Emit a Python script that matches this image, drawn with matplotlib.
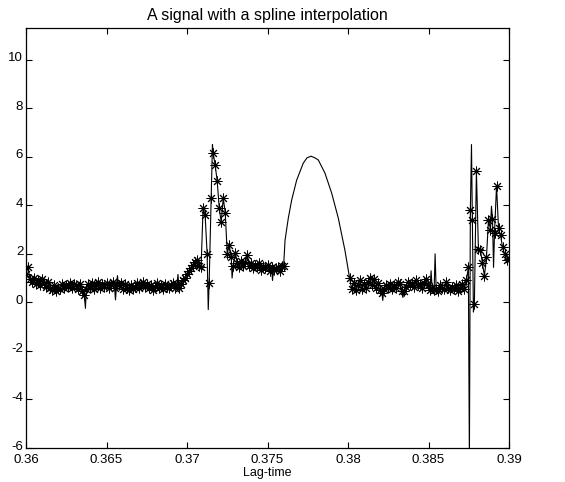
import numpy as np
import matplotlib
matplotlib.use("Agg")
import matplotlib.pyplot as plt
import matplotlib.transforms as mtransforms

plt.rcParams['font.family'] = ['Liberation Sans', 'DejaVu Sans']
plt.rcParams['axes.unicode_minus'] = False

# =============================
# Data
# =============================
dt = 0.000125          # sampling step of the signal
t0_first = 0.36        # start of the first stretch
t0_second = 0.3801     # start of the second stretch (after the gap)

first_vals = [
    1.15, 1.45, 0.95, 0.85, 1.0, 0.75, 0.9, 0.7, 0.95, 0.8,
    0.65, 0.85, 0.6, 0.5, 0.7, 0.45, 0.6, 0.55, 0.75, 0.6,
    0.7, 0.65, 0.8, 0.6, 0.75, 0.7, 0.55, 0.75, 0.45, 0.3,
    0.55, 0.75, 0.6, 0.8, 0.55, 0.7, 0.85, 0.6, 0.75, 0.65,
    0.8, 0.6, 0.7, 0.85, 0.6, 0.75, 0.7, 0.8, 0.55, 0.75,
    0.6, 0.5, 0.7, 0.55, 0.65, 0.8, 0.6, 0.7, 0.85, 0.65,
    0.75, 0.6, 0.7, 0.5, 0.65, 0.8, 0.6, 0.7, 0.55, 0.75,
    0.65, 0.6, 0.7, 0.8, 0.6, 0.75, 0.6, 0.75, 0.9, 1.0,
    1.15, 1.3, 1.4, 1.55, 1.65, 1.75, 1.5, 1.45, 3.9, 3.6,
    2.0, 0.78, 4.3, 6.15, 5.65, 5.0, 3.9, 3.3, 4.3, 3.7,
    2.0, 2.35, 1.85, 1.5, 2.05, 1.6, 1.45, 1.7, 1.5, 1.65,
    1.95, 1.5, 1.6, 1.4, 1.55, 1.45, 1.6, 1.35, 1.5, 1.4,
    1.55, 1.3, 1.45, 1.35, 1.4, 1.45, 1.3, 1.5, 1.5,
]

second_vals = [
    1.0, 0.55, 0.8, 0.5, 0.7, 0.9, 0.55, 0.75, 0.6, 0.85,
    1.0, 0.7, 0.95, 0.6, 0.8, 0.5, 0.4, 0.55, 0.7, 0.6,
    0.75, 0.55, 0.7, 0.6, 0.85, 0.75, 0.45, 0.45, 0.65, 0.85,
    0.7, 0.8, 0.65, 0.9, 0.7, 0.75, 0.6, 0.8, 0.95, 0.7,
    0.5, 0.6, 0.5, 0.55, 0.45, 0.7, 0.6, 0.55, 0.85, 0.6,
    0.5, 0.65, 0.55, 0.7, 0.45, 0.6, 0.75, 0.55, 0.9, 1.44,
    3.8, 3.4, -0.05, 5.4, 2.2, 2.15, 1.6, 1.1, 1.85, 3.4,
    3.0, 3.45, 2.85, 4.8, 3.05, 2.76, 2.27, 2.0, 1.75, 1.8,
]

# spline overshoots between samples (line only)
overshoot_x = [0.36369, 0.36556, 0.36568, 0.36944, 0.37132, 0.37158, 0.37280,
               0.37531, 0.38216, 0.38341, 0.38516, 0.38541, 0.38754, 0.38767,
               0.38779, 0.38891, 0.38904]
overshoot_y = [-0.25, 0.1, 1.1, 1.15, -0.3, 6.5, 1.0,
               0.9, 0.08, 0.2, 1.3, 2.0, -6.6, 6.5,
               -0.4, 3.96, 1.44]

# spline across the gap (line only)
gap_x = [0.37609, 0.37629, 0.37650, 0.37681, 0.37722, 0.37745, 0.37770,
         0.37795, 0.37816, 0.37857, 0.37899, 0.37940, 0.37981]
gap_y = [2.56, 3.46, 4.21, 5.03, 5.73, 5.95, 6.02,
         5.95, 5.86, 5.32, 4.49, 3.46, 2.14]

x_ticks = [0.36, 0.365, 0.37, 0.375, 0.38, 0.385, 0.39]
x_tick_labels = ['0.36', '0.365', '0.37', '0.375', '0.38', '0.385', '0.39']
y_ticks = [-6, -4, -2, 0, 2, 4, 6, 8, 10]

# =============================
# Build series
# =============================
t_first = t0_first + dt * np.arange(len(first_vals))
t_second = t0_second + dt * np.arange(len(second_vals))
mark_x = np.concatenate([t_first, t_second])
mark_y = np.concatenate([first_vals, second_vals])

line_x = np.concatenate([mark_x, overshoot_x, gap_x])
line_y = np.concatenate([mark_y, overshoot_y, gap_y])
order = np.argsort(line_x)
line_x, line_y = line_x[order], line_y[order]

# =============================
# Plot
# =============================
fig = plt.figure(figsize=(5.65, 4.82), dpi=100)
ax = fig.add_axes([26 / 565, 34 / 482, 483 / 565, 420 / 482])

ax.plot(line_x, line_y, color='black', linewidth=0.8)
# MATLAB-style asterisk: 8 spokes
ax.plot(mark_x, mark_y, linestyle='none', marker=(8, 2, 0), color='black',
        markersize=7, markeredgewidth=0.7)

ax.set_xlim(0.36, 0.39)
ax.set_ylim(-6, 11.3)
ax.set_xticks(x_ticks)
ax.set_xticklabels(x_tick_labels)
ax.set_yticks(y_ticks)
ax.tick_params(direction='in', top=True, right=True, length=4, width=0.8,
               labelsize=9.5)
ax.tick_params(axis='x', pad=4)
ax.tick_params(axis='y', pad=2)
for s in ax.spines.values():
    s.set_linewidth(0.9)

# lift the y labels a touch so "-6" clears "0.36"
lift = mtransforms.ScaledTranslation(0, 3 / 100, fig.dpi_scale_trans)
for lbl in ax.get_yticklabels():
    lbl.set_transform(lbl.get_transform() + lift)

ax.set_title("A signal with a spline interpolation", fontsize=11.5, pad=6)
ax.set_xlabel("Lag-time", fontsize=9, labelpad=1)

fig.savefig("out.png", dpi=100)
